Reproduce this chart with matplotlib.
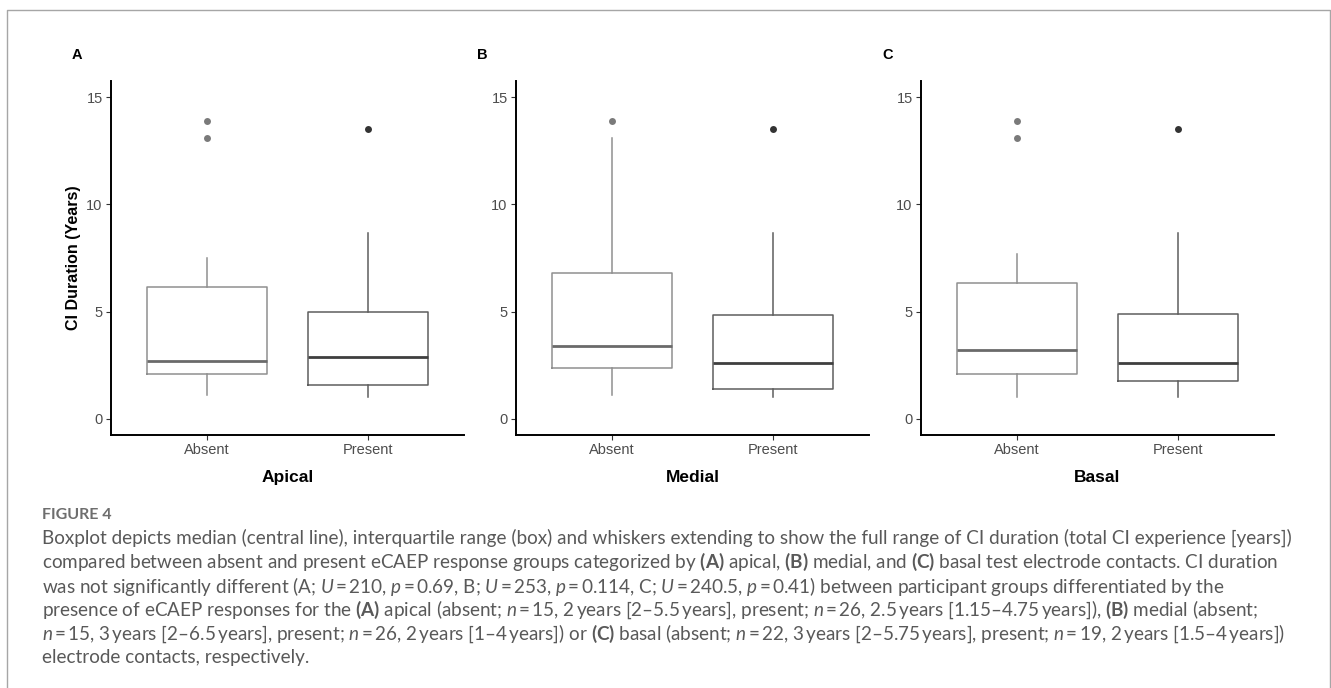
import matplotlib
matplotlib.use("Agg")
import matplotlib.pyplot as plt
from matplotlib.lines import Line2D

plt.rcParams.update({
    "font.family": ["Liberation Sans", "DejaVu Sans"],
    "mathtext.fontset": "custom",
    "mathtext.rm": "Lato",
    "mathtext.it": "Lato:italic",
    "mathtext.bf": "Lato:bold",
})

# data (CI duration, years)
panels = ["Apical", "Medial", "Basal"]
panel_tags = ["A", "B", "C"]
groups = ["Absent", "Present"]
whislo = [[1.12, 1.01], [1.12, 1.01], [1.01, 1.01]]
q1 = [[2.11, 1.58], [2.36, 1.41], [2.11, 1.75]]
med = [[2.71, 2.90], [3.39, 2.60], [3.21, 2.60]]
q3 = [[6.15, 4.96], [6.80, 4.84], [6.32, 4.90]]
whishi = [[7.49, 8.68], [13.11, 8.68], [7.69, 8.68]]
fliers = [[[13.9, 13.11], [13.5]], [[13.9], [13.5]], [[13.9, 13.11], [13.5]]]
yticks = [0, 5, 10, 15]

T = "\u2009"  # thin space, as in the journal caption
caption_title = "FIGURE 4"
caption_lines = [
    "Boxplot depicts median (central line), interquartile range (box) and whiskers extending to show the full range of CI duration (total CI experience [years])",
    r"compared between absent and present eCAEP response groups categorized by $\mathbf{(A)}$ apical, $\mathbf{(B)}$ medial, and $\mathbf{(C)}$ basal test electrode contacts. CI duration",
    rf"was not significantly different (A; $\mathit{{U}}${T}={T}210, $\mathit{{p}}${T}={T}0.69, B; $\mathit{{U}}${T}={T}253, $\mathit{{p}}${T}={T}0.114, C; $\mathit{{U}}${T}={T}240.5, $\mathit{{p}}${T}={T}0.41) between participant groups differentiated by the",
    rf"presence of eCAEP responses for the $\mathbf{{(A)}}$ apical (absent; $\mathit{{n}}${T}={T}15, 2{T}years [2–5.5{T}years], present; $\mathit{{n}}${T}={T}26, 2.5{T}years [1.15–4.75{T}years]), $\mathbf{{(B)}}$ medial (absent;",
    rf"$\mathit{{n}}${T}={T}15, 3{T}years [2–6.5{T}years], present; $\mathit{{n}}${T}={T}26, 2{T}years [1–4{T}years]) or $\mathbf{{(C)}}$ basal (absent; $\mathit{{n}}${T}={T}22, 3{T}years [2–5.75{T}years], present; $\mathit{{n}}${T}={T}19, 2{T}years [1.5–4{T}years])",
    "electrode contacts, respectively.",
]

W, H = 1331, 688
fig = plt.figure(figsize=(W / 100, H / 100), dpi=100)

# outer frame (open at the bottom)
frame_col = "#a6a6a6"
fig.add_artist(Line2D([7 / W, 7 / W, 1330 / W, 1330 / W], [0, 1 - 10 / H, 1 - 10 / H, 0],
                      transform=fig.transFigure, color=frame_col, lw=1.0))

box_cols = ["#8f8f8f", "#5e5e5e"]
med_cols = ["#6a6a6a", "#3f3f3f"]
flier_cols = ["#7a7a7a", "#333333"]
axis_left = [111, 516, 921]
ax_w, ax_top, ax_bot = 353, 81, 435

for i, name in enumerate(panels):
    ax = fig.add_axes([axis_left[i] / W, 1 - ax_bot / H, ax_w / W, (ax_bot - ax_top) / H])
    stats = []
    for j, g in enumerate(groups):
        stats.append(dict(label=g, whislo=whislo[i][j], q1=q1[i][j], med=med[i][j],
                          q3=q3[i][j], whishi=whishi[i][j], fliers=fliers[i][j]))
    art = ax.bxp(stats, positions=[1, 2], widths=0.75, showcaps=False,
                 flierprops=dict(marker="o", markersize=5, markeredgewidth=0),
                 boxprops=dict(linewidth=1.1), whiskerprops=dict(linewidth=1.1),
                 medianprops=dict(linewidth=2.0))
    for j in range(2):
        art["boxes"][j].set_color(box_cols[j])
        art["medians"][j].set_color(med_cols[j])
        art["medians"][j].set_solid_capstyle("butt")
        for w in art["whiskers"][2 * j:2 * j + 2]:
            w.set_color(box_cols[j])
        art["fliers"][j].set_markerfacecolor(flier_cols[j])
    ax.set_xlim(0.4, 2.6)
    ax.set_ylim(-0.75, 15.75)
    ax.set_yticks(yticks)
    for s in ["top", "right"]:
        ax.spines[s].set_visible(False)
    for s in ["left", "bottom"]:
        ax.spines[s].set_linewidth(1.4)
        ax.spines[s].set_color("black")
    ax.tick_params(axis="both", length=3.5, width=0.8, color="#333333",
                   labelcolor="#4d4d4d", labelsize=10.5, pad=2.5)
    ax.set_xlabel(name, fontsize=12.5, fontweight="bold", labelpad=9)
    if i == 0:
        ax.set_ylabel("CI Duration (Years)", fontsize=11.5, fontweight="bold", labelpad=4)
    fig.text((axis_left[i] - 39) / W, 1 - 55 / H, panel_tags[i], fontsize=10.5,
             fontweight="bold", ha="left", va="center")

# caption
cap_col = "#595959"
fig.text(42 / W, 1 - 515 / H, caption_title, fontsize=11.5, color="#6e6e6e",
         family="Lato", fontweight="bold", ha="left", va="center")
for k, line in enumerate(caption_lines):
    fig.text(42 / W, 1 - (538 + 24 * k) / H, line, fontsize=13.6, color=cap_col,
             family=["Lato", "DejaVu Sans"], ha="left", va="center")

fig.savefig("out.png", dpi=100)
